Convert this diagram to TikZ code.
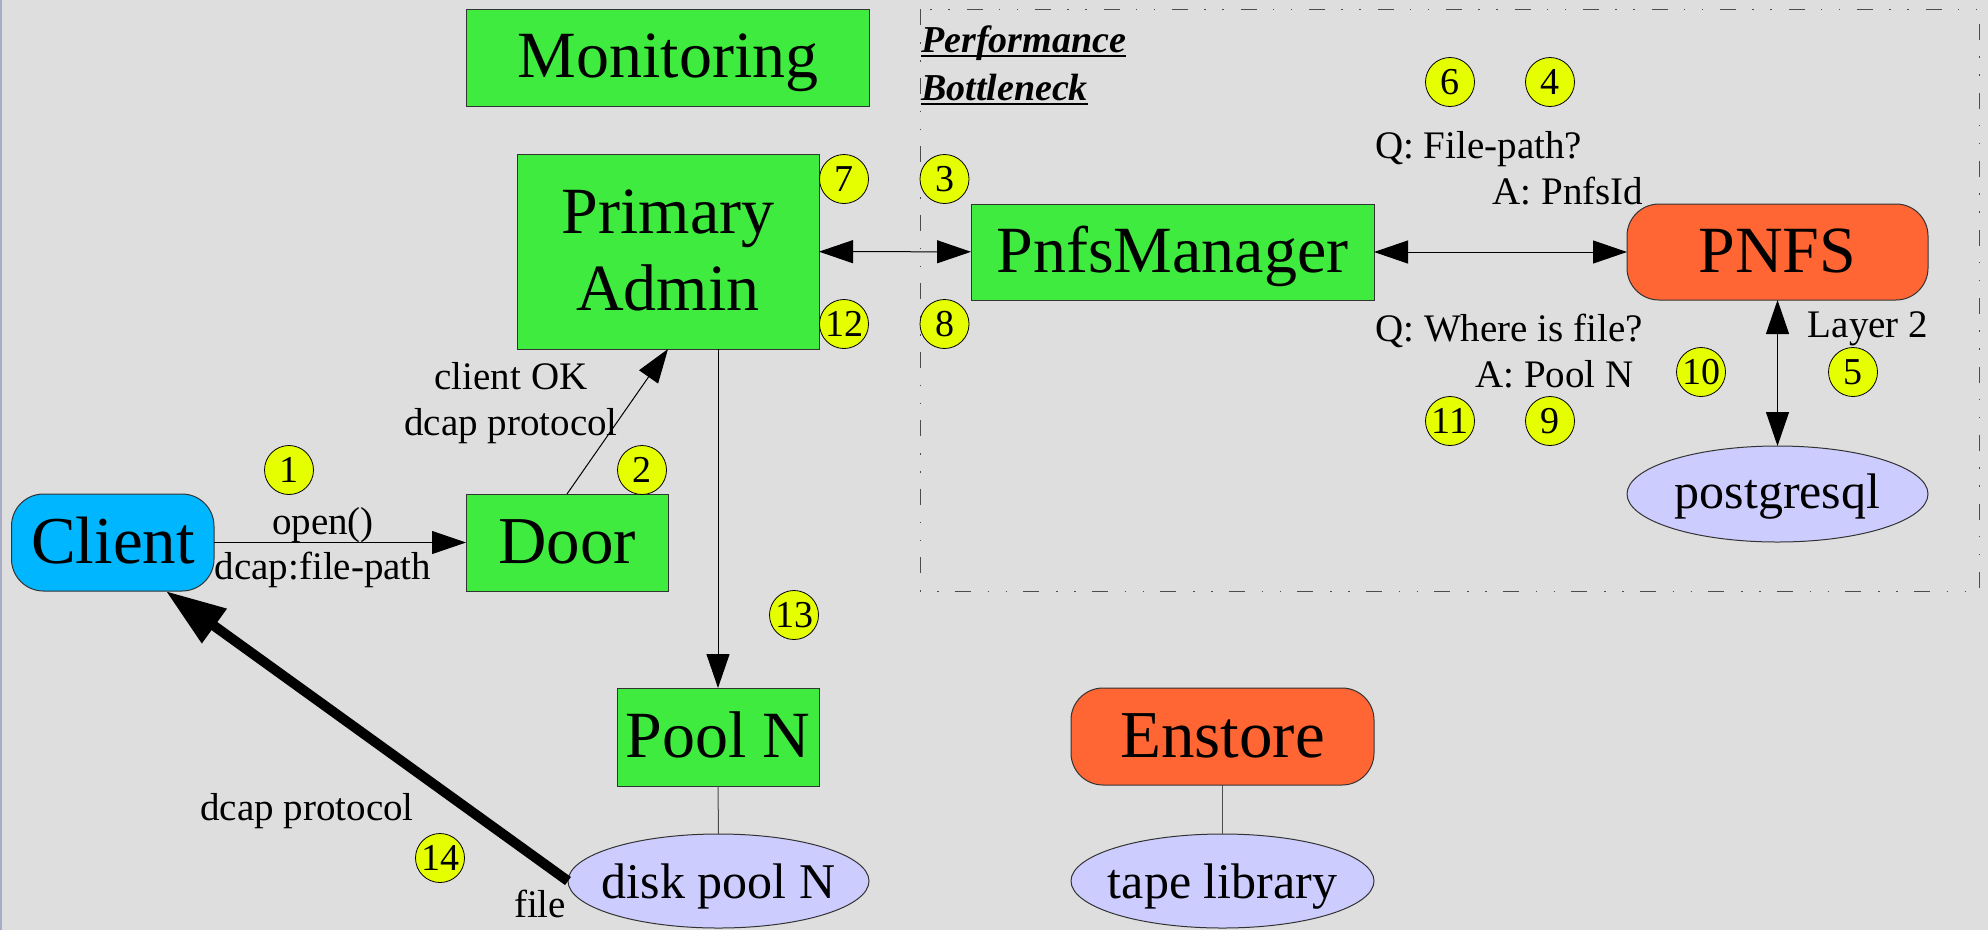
\documentclass[tikz,border=0pt]{standalone}
\usepackage{fontspec}
\setmainfont{Liberation Serif}
\usetikzlibrary{arrows.meta,shapes.geometric}
\definecolor{bg}{HTML}{DEDEDE}
\definecolor{boxgreen}{HTML}{3EEB3E}
\definecolor{numyellow}{HTML}{E6FF00}
\definecolor{clientblue}{HTML}{00B6FF}
\definecolor{pnfsorange}{HTML}{FF6633}
\definecolor{lav}{HTML}{CCCCFF}
\definecolor{edgeline}{HTML}{A8ACC4}
\begin{document}
\begin{tikzpicture}[x=1pt,y=-1pt,
  box/.style={draw=black!80, line width=1pt, inner sep=0pt, outer sep=0pt},
  gbox/.style={box, fill=boxgreen},
  rbox/.style={box, rounded corners=32pt},
  ell/.style={box, ellipse, fill=lav},
  num/.style={circle, draw=black, line width=0.8pt, fill=numyellow, minimum size=49pt, inner sep=0pt, font=\fontsize{38}{38}\selectfont},
  big/.style={font=\fontsize{66}{66}\selectfont, inner sep=0pt, anchor=base},
  mid/.style={font=\fontsize{50}{50}\selectfont, inner sep=0pt, anchor=base},
  small/.style={font=\fontsize{39}{39}\selectfont, inner sep=0pt, anchor=base},
  ttl/.style={font=\fontsize{38}{38}\selectfont\bfseries\itshape, inner sep=0pt, anchor=base west},
  arr/.style={line width=1pt, -{Triangle[length=34pt,width=23pt]}},
  biarr/.style={line width=1pt, {Triangle[length=34pt,width=23pt]}-{Triangle[length=34pt,width=23pt]}},
  plain/.style={line width=1pt, draw=black!70},
  bottleneck/.style={draw=black!70, line width=1pt, dash pattern=on 16pt off 17pt on 1.5pt off 16.5pt on 1.5pt off 16pt}
]
\useasboundingbox (0,0) rectangle (1988,930);
\fill[bg] (0,0) rectangle (1988,930);
\draw[edgeline, line width=1.5pt] (0.75,0) -- (0.75,930);

% bottleneck region
\draw[bottleneck] (920,9) rectangle (1979,591);
\node[ttl] (ttl1) at (921,52) {Performance};
\node[ttl] (ttl2) at (921,100) {Bottleneck};
\draw[line width=2.5pt] ([yshift=-4pt]ttl1.base west) -- ([yshift=-4pt]ttl1.base east);
\draw[line width=2.5pt] ([yshift=-4pt]ttl2.base west) -- ([yshift=-4pt]ttl2.base east);

% boxes
\node[gbox, minimum width=403pt, minimum height=97pt] (mon) at (667.5,57.5) {};
\node[big] (monT) at (668,77) {Monitoring};
\node[gbox, minimum width=302pt, minimum height=195pt] (admin) at (668,251.5) {};
\node[big] (adminT1) at (668,233) {Primary};
\node[big] (adminT2) at (668,310) {Admin};
\node[gbox, minimum width=403pt, minimum height=96pt] (pm) at (1172.5,252) {};
\node[big] (pmT) at (1172.5,272) {PnfsManager};
\node[rbox, fill=pnfsorange, minimum width=301pt, minimum height=96pt] (pnfs) at (1777.5,252) {};
\node[big] (pnfsT) at (1777.5,272) {PNFS};
\node[ell, minimum width=301pt, minimum height=96pt] (pg) at (1777.5,494) {};
\node[mid] (pgT) at (1777.5,508) {postgresql};
\node[rbox, fill=clientblue, minimum width=202.5pt, minimum height=97pt] (client) at (112.75,542.5) {};
\node[big, font=\fontsize{67}{67}\selectfont] (clientT) at (113,563) {Client};
\node[gbox, minimum width=202pt, minimum height=97pt] (door) at (567,542.5) {};
\node[big, font=\fontsize{67}{67}\selectfont] (doorT) at (567,563) {Door};
\node[gbox, minimum width=202pt, minimum height=98pt] (pool) at (718,737) {};
\node[big] (poolT) at (718,757) {Pool N};
\node[rbox, fill=pnfsorange, minimum width=303pt, minimum height=97pt] (enstore) at (1222.5,736.5) {};
\node[big, font=\fontsize{67}{67}\selectfont] (enstoreT) at (1222.5,757) {Enstore};
\node[ell, minimum width=301pt, minimum height=94pt] (disk) at (718.5,881) {};
\node[mid] (diskT) at (718.5,898) {disk pool N};
\node[ell, minimum width=303pt, minimum height=94pt] (tape) at (1222.5,881) {};
\node[mid] (tapeT) at (1222.5,898) {tape library};

% connectors
\draw[arr] (client) -- (door);
\draw[arr] (door.north) -- (admin.south);
\draw[biarr] (admin) -- (pm);
\draw[biarr] (pm) -- (pnfs);
\draw[biarr] (pnfs.south) -- (pg.north);
\draw[arr] (admin.south -| pool.north) -- (pool.north);
\draw[plain] (pool.south) -- (disk.north);
\draw[plain] (enstore.south) -- (tape.north);
\draw[line width=10pt, -{Triangle[length=60pt,width=40pt]}] (disk.west) -- ([xshift=53pt]client.south);

% connector labels
\node[small] (l1) at (323,534) {open()};
\node[small] (l2) at (323,579) {dcap:file-path};
\node[small] (l3) at (511,389.5) {client OK};
\node[small] (l4) at (511,435) {dcap protocol};
\node[small] (l5) at (1478.5,158) {Q: File-path?};
\node[small] (l6) at (1568,204) {A: PnfsId};
\node[small] (l7) at (1509,341) {Q: Where is file?};
\node[small] (l8) at (1554.5,387) {A: Pool N};
\node[small] (l9) at (1868,337) {Layer 2};
\node[small] (l10) at (307,820) {dcap protocol};
\node[small] (l11) at (540,917) {file};

% step numbers
\node[num] (n1) at (289,470) {1};
\node[num] (n2) at (642,470) {2};
\node[num] (n3) at (944.5,179) {3};
\node[num] (n4) at (1550,82) {4};
\node[num] (n5) at (1853,372) {5};
\node[num] (n6) at (1450,82) {6};
\node[num] (n7) at (844,179) {7};
\node[num] (n8) at (944.5,324) {8};
\node[num] (n9) at (1550,421) {9};
\node[num] (n10) at (1701,372) {10};
\node[num] (n11) at (1450,421) {11};
\node[num] (n12) at (844,324) {12};
\node[num] (n13) at (794,615) {13};
\node[num] (n14) at (440,858) {14};
\end{tikzpicture}
\end{document}
